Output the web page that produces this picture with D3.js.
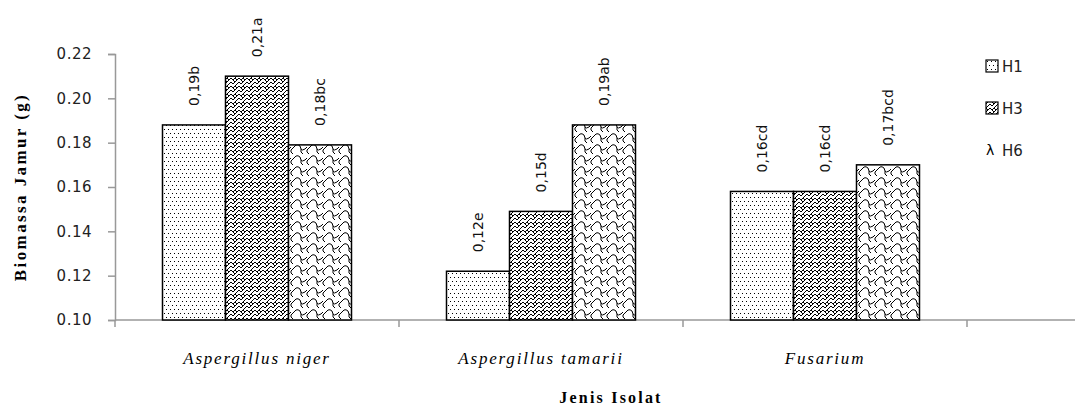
<!DOCTYPE html>
<html>
<head>
<meta charset="utf-8">
<script src="https://cdn.jsdelivr.net/npm/d3@7"></script>
<style>
body { margin: 0; background: #fff; }
</style>
</head>
<body>
<svg width="1075" height="408"></svg>
<script>
var svg = d3.select("svg"),
	width = +svg.attr("width"),
	height = +svg.attr("height");

//categories, series and values
var isolates = ["Aspergillus niger", "Aspergillus tamarii", "Fusarium"];
var seriesNames = ["H1", "H3", "H6"];
var h1 = [0.188, 0.122, 0.158];
var h3 = [0.210, 0.149, 0.158];
var h6 = [0.179, 0.188, 0.170];
var labelsH1 = ["0,19b", "0,12e", "0,16cd"];
var labelsH3 = ["0,21a", "0,15d", "0,16cd"];
var labelsH6 = ["0,18bc", "0,19ab", "0,17bcd"];
var yTicks = [0.10, 0.12, 0.14, 0.16, 0.18, 0.20, 0.22];

var values = [h1, h3, h6],
	labels = [labelsH1, labelsH3, labelsH6];

var margin = { left: 115, right: 0, top: 54, bottom: 88 };

//x scale: one band per isolate
var x = d3.scaleBand()
	.domain(isolates)
	.range([margin.left, margin.left + 284 * 3])
	.paddingInner(0)
	.paddingOuter(0);

//bars inside a band
var xs = d3.scaleBand()
	.domain(seriesNames)
	.range([0, x.bandwidth()])
	.paddingOuter(0.754)
	.paddingInner(0);

var y = d3.scaleLinear()
	.domain([0.10, 0.22])
	.range([height - margin.bottom, margin.top]);

//patterns for the bars
var defs = svg.append("defs");

var p1 = defs.append("pattern")
	.attr("id", "pat-H1")
	.attr("patternUnits", "userSpaceOnUse")
	.attr("width", 4).attr("height", 8);
p1.append("rect").attr("width", 4).attr("height", 8).attr("fill", "#fff");
p1.append("rect").attr("x", 1).attr("y", 1).attr("width", 1).attr("height", 1).attr("fill", "#000");
p1.append("rect").attr("x", 3).attr("y", 5).attr("width", 1).attr("height", 1).attr("fill", "#000");

var p3 = defs.append("pattern")
	.attr("id", "pat-H3")
	.attr("patternUnits", "userSpaceOnUse")
	.attr("width", 8).attr("height", 8);
p3.append("rect").attr("width", 8).attr("height", 8).attr("fill", "#fff");
p3.append("path")
	.attr("d", "M0,2 L2,0 M0,6 L4,2 L6,4 L8,2 M6,0 L8,2 M2,8 L4,6 L6,8 M0,6 L2,8 M6,8 L8,6")
	.attr("stroke", "#000").attr("stroke-width", 1).attr("fill", "none");

var p6 = defs.append("pattern")
	.attr("id", "pat-H6")
	.attr("patternUnits", "userSpaceOnUse")
	.attr("width", 16).attr("height", 11);
p6.append("rect").attr("width", 16).attr("height", 11).attr("fill", "#fff");
p6.append("path")
	.attr("d", "M0,7 L5,2 Q7,1 9,3 L10,6 Q11,8 14,6 L16,4 M10,6 L10,9 L12,11 M-6,7 L-6,9 L-4,11 M2,0 L0,-2 M0,7 L0,9 L2,11 M16,7 L16,9")
	.attr("stroke", "#000").attr("stroke-width", 1).attr("fill", "none");

//y axis
var yAxis = svg.append("g")
	.attr("transform", "translate(" + margin.left + ",0)")
	.call(d3.axisLeft(y).tickValues(yTicks).tickFormat(d3.format(".2f")).tickSize(7).tickPadding(16));

yAxis.select(".domain").attr("stroke", "#999").attr("stroke-width", 1.5);
yAxis.selectAll(".tick line").attr("stroke", "#999").attr("stroke-width", 1.5);
yAxis.selectAll(".tick text")
	.attr("font-family", "DejaVu Sans")
	.attr("font-size", 15)
	.attr("letter-spacing", 0.5)
	.attr("fill", "#222");

//x axis line and category ticks
var baseY = y(0.10);
svg.append("line")
	.attr("x1", margin.left).attr("x2", width)
	.attr("y1", baseY).attr("y2", baseY)
	.attr("stroke", "#999").attr("stroke-width", 1.5);

var tickXs = isolates.map(function (d) { return x(d); }).concat([x(isolates[2]) + x.bandwidth()]);
svg.selectAll(".xtick")
	.data(tickXs)
	.enter().append("line")
	.attr("class", "xtick")
	.attr("x1", function (d) { return d; }).attr("x2", function (d) { return d; })
	.attr("y1", baseY).attr("y2", baseY + 7)
	.attr("stroke", "#999").attr("stroke-width", 1.5);

//bars
var groups = svg.selectAll(".group")
	.data(isolates)
	.enter().append("g")
	.attr("class", "group")
	.attr("transform", function (d) { return "translate(" + x(d) + ",0)"; });

var cells = groups.selectAll(".bar")
	.data(function (d, i) {
		return seriesNames.map(function (s, j) {
			return { series: s, value: values[j][i], label: labels[j][i] };
		});
	})
	.enter();

cells.append("rect")
	.attr("class", "bar")
	.attr("x", function (d) { return xs(d.series); })
	.attr("y", function (d) { return y(d.value); })
	.attr("width", xs.bandwidth())
	.attr("height", function (d) { return baseY - y(d.value); })
	.attr("fill", function (d) { return "url(#pat-" + d.series + ")"; })
	.attr("stroke", "#000")
	.attr("stroke-width", 1.5);

//rotated significance labels above the bars
cells.append("text")
	.attr("transform", function (d) {
		return "translate(" + (xs(d.series) + xs.bandwidth() / 2 + 5) + "," + (y(d.value) - 19) + ") rotate(-90)";
	})
	.attr("font-family", "DejaVu Sans")
	.attr("font-size", 14)
	.attr("fill", "#111")
	.text(function (d) { return d.label; });

//category labels
svg.selectAll(".xlabel")
	.data(isolates)
	.enter().append("text")
	.attr("class", "xlabel")
	.attr("x", function (d) { return x(d) + x.bandwidth() / 2; })
	.attr("y", 364)
	.attr("text-anchor", "middle")
	.attr("font-family", "Liberation Serif")
	.attr("font-style", "italic")
	.attr("font-size", 17)
	.attr("letter-spacing", 1.8)
	.text(function (d) { return d; });

//axis titles
svg.append("text")
	.attr("x", 611)
	.attr("y", 403)
	.attr("text-anchor", "middle")
	.attr("font-family", "Liberation Serif")
	.attr("font-weight", "bold")
	.attr("font-size", 16)
	.attr("letter-spacing", 2.2)
	.text("Jenis Isolat");

svg.append("text")
	.attr("transform", "translate(26," + 187 + ") rotate(-90)")
	.attr("text-anchor", "middle")
	.attr("font-family", "Liberation Serif")
	.attr("font-weight", "bold")
	.attr("font-size", 17)
	.attr("letter-spacing", 2.4)
	.text("Biomassa Jamur (g)");

//legend
var legend = svg.selectAll(".legend")
	.data(seriesNames)
	.enter().append("g")
	.attr("class", "legend")
	.attr("transform", function (d, i) { return "translate(986," + (60 + i * 42) + ")"; });

legend.filter(function (d) { return d != "H6"; })
	.append("rect")
	.attr("width", 12).attr("height", 12)
	.attr("fill", function (d) { return "url(#pat-" + d + ")"; })
	.attr("stroke", "#000").attr("stroke-width", 1.2);

legend.filter(function (d) { return d == "H6"; })
	.append("text")
	.attr("x", 0).attr("y", 11)
	.attr("font-family", "DejaVu Sans")
	.attr("font-size", 14)
	.text("λ");

legend.append("text")
	.attr("x", 16).attr("y", 12)
	.attr("font-family", "DejaVu Sans")
	.attr("font-size", 15)
	.attr("fill", "#222")
	.text(function (d) { return d; });
</script>
</body>
</html>
